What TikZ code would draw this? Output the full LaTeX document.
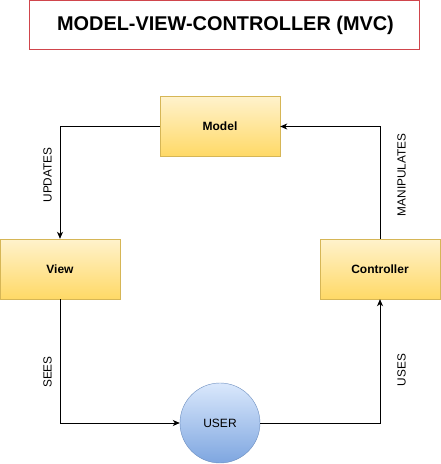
\documentclass[tikz,border=0pt]{standalone}
\usepackage{fontspec}
\setmainfont{Liberation Sans}
\usetikzlibrary{arrows.meta,shadings}
\definecolor{ylTop}{HTML}{FFF2CC}
\definecolor{ylBot}{HTML}{FFD966}
\definecolor{ylLine}{HTML}{D6B656}
\definecolor{blTop}{HTML}{DAE8FC}
\definecolor{blBot}{HTML}{7EA6E0}
\definecolor{blLine}{HTML}{6C8EBF}
\definecolor{titleRed}{HTML}{D0454C}
\tikzset{
  box/.style={draw=ylLine, top color=ylTop, bottom color=ylBot, minimum width=120pt, minimum height=60pt, inner sep=0pt, font=\fontsize{12}{14}\selectfont\bfseries},
  usercirc/.style={circle, draw=blLine, top color=blTop, bottom color=blBot, minimum size=80pt, inner sep=0pt, font=\fontsize{12}{14}\selectfont},
  conn/.style={draw=black, line width=0.8pt, -{Stealth[length=7pt,width=6pt,inset=2pt]}},
  elabel/.style={rotate=90, font=\fontsize{11.8}{13}\selectfont},
  titlebox/.style={draw=titleRed, line width=0.8pt, minimum width=390pt, minimum height=49pt, inner sep=0pt},
}
\begin{document}
\begin{tikzpicture}[x=1pt,y=-1pt]
\useasboundingbox (0,0) rectangle (441,464);
\node[titlebox] (title) at (224,25) {};
\node[font=\fontsize{19.9}{23}\selectfont\bfseries] (titletext) at (225.5,25) {MODEL-VIEW-CONTROLLER (MVC)};
\node[box] (model) at (220,126.5) {Model};
\node[box] (view) at (60,269) {View};
\node[box] (ctrl) at (380,269) {Controller};
\node[usercirc] (user) at (220,423) {USER};
\coordinate (c1) at (60,126.5);
\coordinate (c2) at (380,126.5);
\coordinate (c3) at (60,423);
\coordinate (c4) at (380,423);
\draw[conn] (model.west) -- (c1) -- (view.north);
\draw[conn] (ctrl.north) -- (c2) -- (model.east);
\draw[conn] (view.south) -- (c3) -- (user.west);
\draw[conn] (user.east) -- (c4) -- (ctrl.south);
\node[elabel] (lu) at (47.5,175) {UPDATES};
\node[elabel] (lm) at (401.5,175) {MANIPULATES};
\node[elabel] (ls) at (47.5,372) {SEES};
\node[elabel] (lus) at (401.5,370) {USES};
\end{tikzpicture}
\end{document}
